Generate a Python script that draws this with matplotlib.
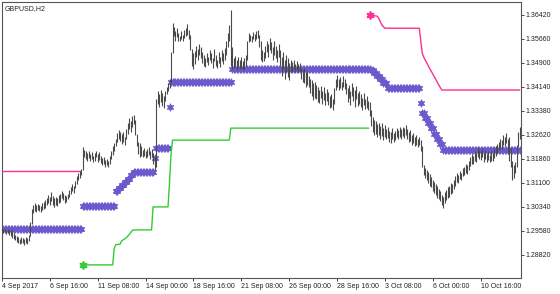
import numpy as np
import matplotlib
matplotlib.use("Agg")
import matplotlib.pyplot as plt

plt.rcParams['font.family'] = ['Liberation Sans', 'DejaVu Sans']

title = "GBPUSD,H2"

high = [
    1.2966, 1.2962, 1.2964, 1.2958, 1.2963, 1.2960, 1.2955, 1.2962, 1.2950, 1.2945,
    1.2940, 1.2936, 1.2932, 1.2938, 1.2934, 1.2930, 1.2936, 1.2933, 1.2945, 1.2985,
    1.3025, 1.3040, 1.3045, 1.3038, 1.3043, 1.3040, 1.3036, 1.3044, 1.3048, 1.3055,
    1.3060, 1.3070, 1.3065, 1.3080, 1.3068, 1.3060, 1.3066, 1.3062, 1.3070, 1.3075,
    1.3085, 1.3078, 1.3072, 1.3068, 1.3075, 1.3088, 1.3095, 1.3105, 1.3100, 1.3115,
    1.3130, 1.3140, 1.3148, 1.3152, 1.3222, 1.3215, 1.3210, 1.3205, 1.3212, 1.3200,
    1.3208, 1.3196, 1.3204, 1.3212, 1.3200, 1.3206, 1.3195, 1.3188, 1.3190, 1.3182,
    1.3186, 1.3180, 1.3195, 1.3210, 1.3225, 1.3236, 1.3250, 1.3268, 1.3278, 1.3272,
    1.3265, 1.3270, 1.3255, 1.3280, 1.3300, 1.3315, 1.3305, 1.3320, 1.3326, 1.3310,
    1.3265, 1.3240, 1.3235, 1.3225, 1.3215, 1.3220, 1.3210, 1.3218, 1.3222, 1.3212,
    1.3218, 1.3205, 1.3190, 1.3375, 1.3400, 1.3390, 1.3405, 1.3395, 1.3385, 1.3400,
    1.3415, 1.3425, 1.3438, 1.3525, 1.3618, 1.3605, 1.3590, 1.3600, 1.3585, 1.3575,
    1.3590, 1.3580, 1.3595, 1.3600, 1.3615, 1.3595, 1.3580, 1.3535, 1.3520, 1.3528,
    1.3545, 1.3535, 1.3550, 1.3540, 1.3525, 1.3515, 1.3505, 1.3520, 1.3510, 1.3530,
    1.3520, 1.3505, 1.3535, 1.3515, 1.3500, 1.3525, 1.3510, 1.3530, 1.3520, 1.3538,
    1.3560, 1.3585, 1.3610, 1.3658, 1.3540, 1.3505, 1.3512, 1.3498, 1.3510, 1.3500,
    1.3508, 1.3495, 1.3505, 1.3515, 1.3560, 1.3585, 1.3580, 1.3575, 1.3588, 1.3582,
    1.3590, 1.3595, 1.3580, 1.3560, 1.3530, 1.3525, 1.3545, 1.3560, 1.3550, 1.3568,
    1.3555, 1.3540, 1.3560, 1.3545, 1.3530, 1.3550, 1.3530, 1.3510, 1.3525, 1.3500,
    1.3515, 1.3505, 1.3490, 1.3498, 1.3492, 1.3500, 1.3488, 1.3495, 1.3485, 1.3490,
    1.3475, 1.3468, 1.3474, 1.3460, 1.3465, 1.3450, 1.3440, 1.3435, 1.3425, 1.3430,
    1.3420, 1.3412, 1.3405, 1.3418, 1.3400, 1.3412, 1.3395, 1.3408, 1.3398, 1.3385,
    1.3390, 1.3375, 1.3410, 1.3440, 1.3452, 1.3438, 1.3445, 1.3430, 1.3448, 1.3440,
    1.3425, 1.3410, 1.3420, 1.3400, 1.3426, 1.3412, 1.3405, 1.3418, 1.3395, 1.3400,
    1.3390, 1.3380, 1.3395, 1.3375, 1.3385, 1.3370, 1.3365, 1.3340, 1.3318, 1.3310,
    1.3305, 1.3295, 1.3300, 1.3290, 1.3298, 1.3285, 1.3292, 1.3280, 1.3286, 1.3275,
    1.3270, 1.3282, 1.3268, 1.3275, 1.3285, 1.3278, 1.3286, 1.3280, 1.3288, 1.3284,
    1.3292, 1.3280, 1.3270, 1.3276, 1.3262, 1.3268, 1.3255, 1.3260, 1.3250, 1.3256,
    1.3245, 1.3225, 1.3165, 1.3158, 1.3150, 1.3145, 1.3138, 1.3128, 1.3120, 1.3112,
    1.3105, 1.3098, 1.3090, 1.3085, 1.3070, 1.3065, 1.3080, 1.3088, 1.3095, 1.3100,
    1.3110, 1.3105, 1.3118, 1.3130, 1.3140, 1.3135, 1.3148, 1.3140, 1.3155, 1.3160,
    1.3170, 1.3165, 1.3178, 1.3190, 1.3200, 1.3195, 1.3210, 1.3205, 1.3222, 1.3215,
    1.3210, 1.3220, 1.3205, 1.3215, 1.3200, 1.3212, 1.3198, 1.3210, 1.3205, 1.3218,
    1.3225, 1.3232, 1.3240, 1.3250, 1.3245, 1.3262, 1.3255, 1.3268, 1.3250, 1.3255,
    1.3220, 1.3180, 1.3165, 1.3175, 1.3230, 1.3270, 1.3288,
]
low = [
    1.2955, 1.2950, 1.2952, 1.2946, 1.2950, 1.2944, 1.2940, 1.2935, 1.2932, 1.2928,
    1.2922, 1.2918, 1.2915, 1.2920, 1.2917, 1.2913, 1.2918, 1.2915, 1.2925, 1.2940,
    1.2980, 1.3015, 1.3020, 1.3018, 1.3022, 1.3020, 1.3016, 1.3022, 1.3026, 1.3030,
    1.3038, 1.3045, 1.3040, 1.3052, 1.3040, 1.3034, 1.3040, 1.3036, 1.3045, 1.3050,
    1.3062, 1.3055, 1.3046, 1.3050, 1.3058, 1.3066, 1.3075, 1.3082, 1.3078, 1.3092,
    1.3105, 1.3118, 1.3125, 1.3135, 1.3150, 1.3190, 1.3185, 1.3180, 1.3188, 1.3178,
    1.3185, 1.3174, 1.3180, 1.3190, 1.3176, 1.3182, 1.3172, 1.3165, 1.3168, 1.3160,
    1.3165, 1.3160, 1.3170, 1.3185, 1.3198, 1.3210, 1.3225, 1.3240, 1.3250, 1.3242,
    1.3232, 1.3238, 1.3228, 1.3250, 1.3265, 1.3280, 1.3270, 1.3288, 1.3295, 1.3260,
    1.3225, 1.3200, 1.3192, 1.3195, 1.3190, 1.3196, 1.3188, 1.3192, 1.3198, 1.3186,
    1.3190, 1.3170, 1.3150, 1.3160, 1.3360, 1.3350, 1.3365, 1.3352, 1.3348, 1.3370,
    1.3390, 1.3400, 1.3410, 1.3430, 1.3520, 1.3575, 1.3560, 1.3572, 1.3558, 1.3560,
    1.3565, 1.3558, 1.3570, 1.3575, 1.3580, 1.3565, 1.3530, 1.3480, 1.3470, 1.3485,
    1.3510, 1.3500, 1.3515, 1.3505, 1.3490, 1.3480, 1.3478, 1.3492, 1.3482, 1.3498,
    1.3490, 1.3475, 1.3495, 1.3480, 1.3474, 1.3490, 1.3478, 1.3495, 1.3485, 1.3500,
    1.3515, 1.3540, 1.3560, 1.3480, 1.3470, 1.3475, 1.3480, 1.3468, 1.3478, 1.3470,
    1.3475, 1.3468, 1.3472, 1.3480, 1.3500, 1.3555, 1.3560, 1.3556, 1.3565, 1.3560,
    1.3565, 1.3570, 1.3540, 1.3500, 1.3493, 1.3495, 1.3505, 1.3525, 1.3510, 1.3530,
    1.3520, 1.3500, 1.3515, 1.3505, 1.3492, 1.3510, 1.3480, 1.3450, 1.3470, 1.3440,
    1.3460, 1.3445, 1.3436, 1.3465, 1.3462, 1.3470, 1.3460, 1.3468, 1.3461, 1.3465,
    1.3440, 1.3430, 1.3425, 1.3415, 1.3420, 1.3413, 1.3395, 1.3385, 1.3372, 1.3380,
    1.3375, 1.3365, 1.3363, 1.3380, 1.3360, 1.3372, 1.3355, 1.3368, 1.3355, 1.3348,
    1.3350, 1.3341, 1.3360, 1.3405, 1.3415, 1.3404, 1.3410, 1.3405, 1.3412, 1.3408,
    1.3390, 1.3365, 1.3380, 1.3355, 1.3385, 1.3370, 1.3350, 1.3375, 1.3352, 1.3360,
    1.3350, 1.3341, 1.3355, 1.3345, 1.3348, 1.3342, 1.3320, 1.3290, 1.3270, 1.3262,
    1.3265, 1.3255, 1.3262, 1.3250, 1.3258, 1.3245, 1.3255, 1.3248, 1.3252, 1.3240,
    1.3236, 1.3250, 1.3240, 1.3246, 1.3255, 1.3248, 1.3256, 1.3250, 1.3258, 1.3252,
    1.3260, 1.3248, 1.3238, 1.3242, 1.3230, 1.3236, 1.3225, 1.3230, 1.3223, 1.3228,
    1.3210, 1.3160, 1.3135, 1.3125, 1.3118, 1.3110, 1.3100, 1.3095, 1.3085, 1.3078,
    1.3070, 1.3062, 1.3058, 1.3052, 1.3040, 1.3030, 1.3045, 1.3055, 1.3062, 1.3066,
    1.3075, 1.3078, 1.3090, 1.3100, 1.3112, 1.3110, 1.3122, 1.3118, 1.3130, 1.3135,
    1.3140, 1.3138, 1.3150, 1.3162, 1.3170, 1.3168, 1.3180, 1.3176, 1.3190, 1.3185,
    1.3182, 1.3190, 1.3176, 1.3186, 1.3175, 1.3182, 1.3176, 1.3180, 1.3178, 1.3188,
    1.3195, 1.3205, 1.3214, 1.3220, 1.3218, 1.3230, 1.3225, 1.3235, 1.3200, 1.3180,
    1.3160, 1.3118, 1.3125, 1.3140, 1.3160, 1.3225, 1.3250,
]

# upper stop line (pink), two pieces: bar index and price
upper1_x = [0, 52]
upper1_y = [1.3147, 1.3147]
upper2_x = [246, 251, 252, 253, 254, 256, 279, 280, 281, 282, 284, 286, 288, 290, 292, 294, 346]
upper2_y = [1.3642, 1.3638, 1.3630, 1.3620, 1.3610, 1.3600, 1.3600, 1.3560, 1.3520, 1.3508,
            1.3490, 1.3472, 1.3455, 1.3438, 1.3420, 1.3404, 1.3404]

# lower stop line (green)
lower_x = [54, 74, 75, 76, 79, 80, 83, 85, 87, 88, 100, 101, 111, 112, 113, 114, 152, 153, 245]
lower_y = [1.2849, 1.2849, 1.2900, 1.2913, 1.2915, 1.2925, 1.2935, 1.2945, 1.2958, 1.2960,
           1.2960, 1.3033, 1.3033, 1.3110, 1.3200, 1.3245, 1.3245, 1.3283, 1.3283]

# trend arrows (purple): segments of bars at one level
arrow_start = [0, 54, 76, 78, 80, 82, 84, 86, 88, 102, 103, 112, 113, 154, 247, 249, 251, 253,
               255, 258, 280, 281, 283, 285, 287, 289, 291, 293, 295]
arrow_end = [53, 75, 77, 79, 81, 83, 85, 87, 101, 102, 111, 112, 153, 246, 248, 250, 252, 254,
             257, 279, 280, 282, 284, 286, 288, 290, 292, 294, 346]
arrow_level = [1.2963, 1.3036, 1.3082, 1.3092, 1.3102, 1.3112, 1.3122, 1.3133, 1.3144, 1.3188,
               1.3220, 1.3349, 1.3429, 1.3471, 1.3466, 1.3458, 1.3450, 1.3440, 1.3425, 1.3410,
               1.3363, 1.3330, 1.3314, 1.3298, 1.3282, 1.3264, 1.3248, 1.3232, 1.3214]

xtick_pos = [0, 32, 64, 96, 128, 160, 192, 224, 256, 288, 320]
xtick_labels = ["4 Sep 2017", "6 Sep 16:00", "11 Sep 08:00", "14 Sep 00:00", "18 Sep 16:00",
                "21 Sep 08:00", "26 Sep 00:00", "28 Sep 16:00", "3 Oct 08:00", "6 Oct 00:00",
                "10 Oct 16:00"]
ytick_vals = [1.28820, 1.29580, 1.30340, 1.31100, 1.31860, 1.32620, 1.33380, 1.34140,
              1.34900, 1.35660, 1.36420]

PURPLE = '#6a5acd'
PINK = '#ff2d95'
GREEN = '#33cc33'

fig = plt.figure(figsize=(5.6, 2.94), dpi=100)
ax = fig.add_axes([2/560, 16/294, 519/560, 276/294])

star = (6, 1, 0)
ax_x, ax_y = [], []
for s, e, lv in zip(arrow_start, arrow_end, arrow_level):
    xs = np.arange(s, e + 1)
    ax_x.extend(xs)
    ax_y.extend([lv] * len(xs))
ax.plot(ax_x, ax_y, linestyle='none', marker=star, ms=5.6, color=PURPLE,
        mec=PURPLE, mew=0.5, zorder=2)

ax.plot(upper1_x, upper1_y, color=PINK, lw=1.0, zorder=3)
ax.plot(upper2_x, upper2_y, color=PINK, lw=1.0, zorder=3)
ax.plot([upper2_x[0]], [upper2_y[0]], linestyle='none', marker=star, ms=5.8, color=PINK, zorder=3)
ax.plot(lower_x, lower_y, color=GREEN, lw=1.0, zorder=3)
ax.plot([lower_x[0]], [lower_y[0]], linestyle='none', marker=star, ms=5.8, color=GREEN, zorder=3)

idx = np.arange(len(high))
ax.vlines(idx, low, high, color='#4a4a4a', lw=0.8, zorder=4)

ax.set_xlim(0, 347)
ax.set_ylim(1.280744, 1.368325)

ax.set_xticks(xtick_pos)
ax.set_xticklabels(xtick_labels)
for lab in ax.get_xticklabels():
    lab.set_horizontalalignment('left')
ax.yaxis.tick_right()
ax.set_yticks(ytick_vals)
ax.set_yticklabels([f"{v:.5f}" for v in ytick_vals])
ax.tick_params(axis='x', direction='out', length=2.5, width=0.6, pad=1.2,
               labelsize=5, colors='#222222')
ax.tick_params(axis='y', direction='out', length=2.5, width=0.6, pad=1.0,
               labelsize=5, colors='#222222')
for sp in ax.spines.values():
    sp.set_color('#555555')
    sp.set_linewidth(0.8)

ax.text(0.006, 0.988, title, transform=ax.transAxes, ha='left', va='top',
        fontsize=5, color='#222222')

fig.savefig('out.png', dpi=100)
